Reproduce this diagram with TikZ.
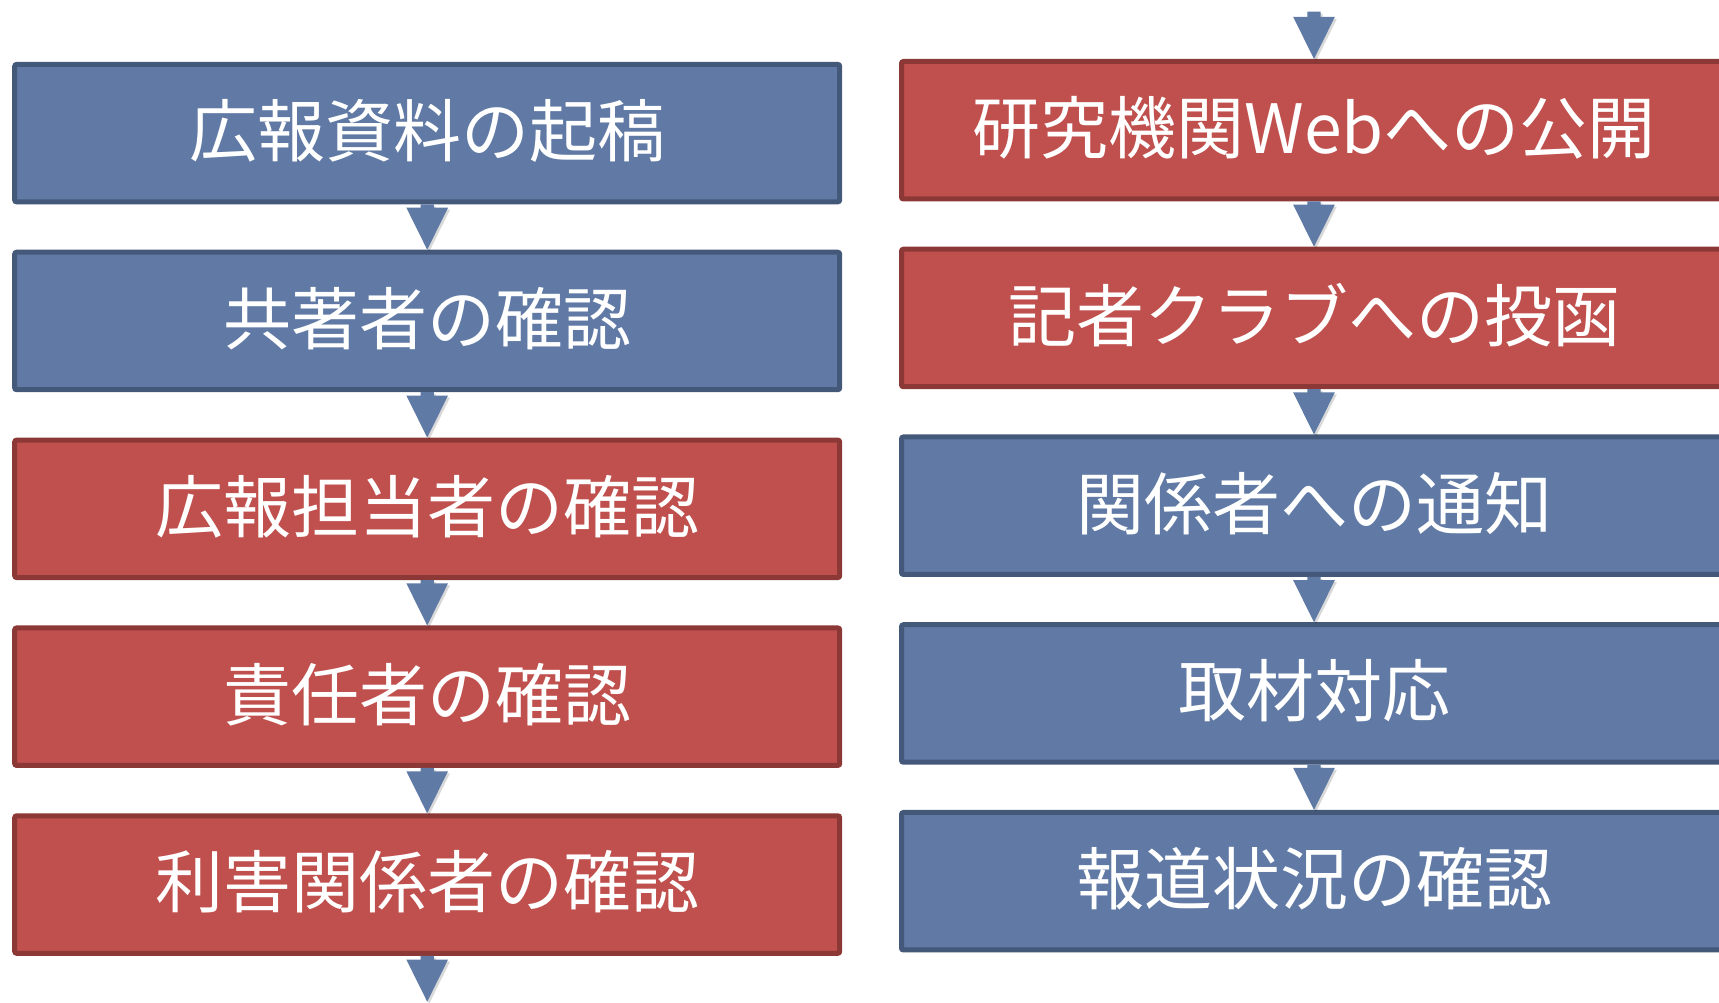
\documentclass[tikz,border=0pt]{standalone}
\usepackage{fontspec}
\newfontfamily\jpfont{Noto Sans CJK JP}
\usetikzlibrary{calc}
\definecolor{bfill}{RGB}{96,122,165}
\definecolor{bline}{RGB}{68,88,122}
\definecolor{rfill}{RGB}{192,80,77}
\definecolor{rline}{RGB}{140,56,54}
\definecolor{afill}{RGB}{96,122,166}
\newcommand\flowarr[2]{%
  \fill[black,opacity=0.15] let \p1=(#1.south), \p2=(#2.north) in
    (\x2-6.7pt+2pt,\y1-2pt) -- (\x2-6.7pt+2pt,\y2+42pt-2pt) -- (\x2-20.8pt+2pt,\y2+42pt-2pt) --
    (\x2+2pt,\y2-2pt) -- (\x2+20.8pt+2pt,\y2+42pt-2pt) -- (\x2+6.7pt+2pt,\y2+42pt-2pt) --
    (\x2+6.7pt+2pt,\y1-2pt) -- cycle;
  \fill[flowarrow] let \p1=(#1.south), \p2=(#2.north) in
    (\x2-6.7pt,\y1) -- (\x2-6.7pt,\y2+42pt) -- (\x2-20.8pt,\y2+42pt) --
    (\x2,\y2) -- (\x2+20.8pt,\y2+42pt) -- (\x2+6.7pt,\y2+42pt) --
    (\x2+6.7pt,\y1) -- cycle;}
\newcommand\boxtext[1]{\raisebox{10.5pt}{#1}}
\begin{document}
\begin{tikzpicture}[x=1pt,y=1pt,
  box/.style={rectangle, line width=5pt, rounded corners=2pt,
    minimum width=825pt, minimum height=137.5pt, inner sep=0pt,
    text=white, font=\jpfont\fontsize{68}{80}\selectfont},
  bluebox/.style={box, fill=bfill, draw=bline},
  redbox/.style={box, fill=rfill, draw=rline},
  flowarrow/.style={fill=afill}]
\useasboundingbox (0,0) rectangle (1719,1003);
\clip (0,0) rectangle (1719,1003);
% left column
\node[bluebox] (l1) at (427.2,869.85) {\boxtext{広報資料の起稿}};
\node[bluebox] (l2) at (427.2,682.0) {\boxtext{共著者の確認}};
\node[redbox] (l3) at (427.2,494.15) {\boxtext{広報担当者の確認}};
\node[redbox] (l4) at (427.2,306.3) {\boxtext{責任者の確認}};
\node[redbox] (l5) at (427.2,118.45) {\boxtext{利害関係者の確認}};
\coordinate (lbot) at (427.2,1.3);
% right column
\coordinate (rtop) at (1314,991.3);
\node[redbox] (r1) at (1314,872.75) {\boxtext{研究機関Webへの公開}};
\node[redbox] (r2) at (1314,685.0) {\boxtext{記者クラブへの投函}};
\node[bluebox] (r3) at (1314,497.25) {\boxtext{関係者への通知}};
\node[bluebox] (r4) at (1314,309.5) {\boxtext{取材対応}};
\node[bluebox] (r5) at (1314,121.75) {\boxtext{報道状況の確認}};
% arrows
\flowarr{l1}{l2}
\flowarr{l2}{l3}
\flowarr{l3}{l4}
\flowarr{l4}{l5}
\flowarr{l5}{lbot}
\flowarr{rtop}{r1}
\flowarr{r1}{r2}
\flowarr{r2}{r3}
\flowarr{r3}{r4}
\flowarr{r4}{r5}
\end{tikzpicture}
\end{document}
